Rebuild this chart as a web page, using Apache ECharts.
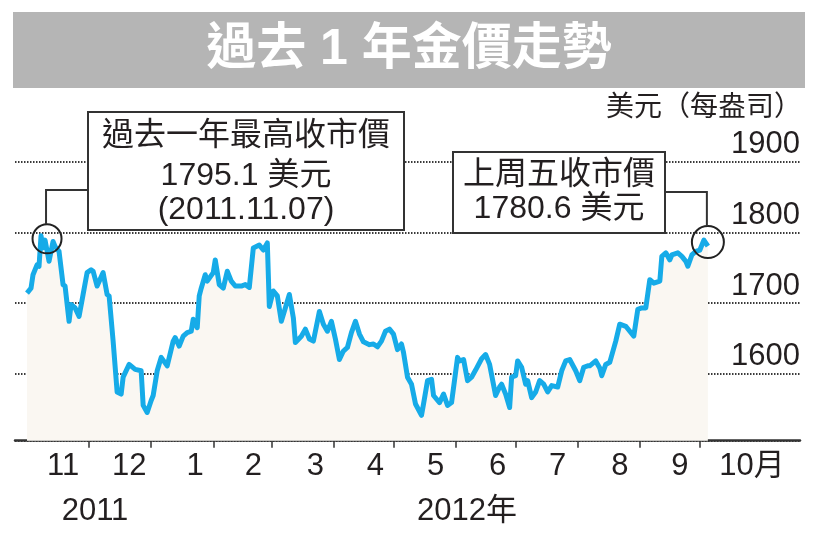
<!DOCTYPE html>
<html><head><meta charset="utf-8">
<script src="https://cdn.jsdelivr.net/npm/echarts@6/dist/echarts.min.js"></script>
<style>html,body{margin:0;padding:0;background:#fff}#c{width:820px;height:540px}</style>
</head><body><div id="c"></div>
<script>
// ---------- data ----------
const dates = [
'2011-10-31','2011-11-02','2011-11-03','2011-11-05','2011-11-06','2011-11-07','2011-11-08','2011-11-09','2011-11-11','2011-11-13',
'2011-11-14','2011-11-16','2011-11-18','2011-11-19','2011-11-21','2011-11-22','2011-11-24','2011-11-26','2011-11-28','2011-11-30',
'2011-12-02','2011-12-03','2011-12-05','2011-12-08','2011-12-10','2011-12-11','2011-12-13','2011-12-15','2011-12-17','2011-12-18',
'2011-12-21','2011-12-24','2011-12-27','2011-12-28','2011-12-30','2012-01-01','2012-01-02','2012-01-04','2012-01-06','2012-01-09',
'2012-01-12','2012-01-13','2012-01-15','2012-01-17','2012-01-19','2012-01-21','2012-01-22','2012-01-24','2012-01-25','2012-01-26',
'2012-01-28','2012-01-29','2012-02-01','2012-02-02','2012-02-04','2012-02-06','2012-02-08','2012-02-10','2012-02-12','2012-02-15',
'2012-02-17','2012-02-19','2012-02-21','2012-02-24','2012-02-26','2012-02-28','2012-02-29','2012-03-02','2012-03-04','2012-03-06',
'2012-03-08','2012-03-10','2012-03-12','2012-03-13','2012-03-16','2012-03-18','2012-03-20','2012-03-22','2012-03-25','2012-03-27',
'2012-03-29','2012-03-31','2012-04-02','2012-04-04','2012-04-06','2012-04-08','2012-04-10','2012-04-12','2012-04-14','2012-04-16',
'2012-04-19','2012-04-21','2012-04-23','2012-04-25','2012-04-27','2012-04-29','2012-05-01','2012-05-03','2012-05-05','2012-05-06',
'2012-05-08','2012-05-10','2012-05-12','2012-05-15','2012-05-16','2012-05-18','2012-05-20','2012-05-21','2012-05-24','2012-05-26',
'2012-05-28','2012-05-30','2012-06-02','2012-06-03','2012-06-05','2012-06-07','2012-06-09','2012-06-11','2012-06-14','2012-06-16',
'2012-06-18','2012-06-21','2012-06-23','2012-06-24','2012-06-26','2012-06-28','2012-06-29','2012-07-01','2012-07-02','2012-07-04',
'2012-07-06','2012-07-07','2012-07-09','2012-07-11','2012-07-13','2012-07-15','2012-07-17','2012-07-19','2012-07-22','2012-07-24',
'2012-07-26','2012-07-28','2012-07-31','2012-08-02','2012-08-04','2012-08-06','2012-08-07','2012-08-10','2012-08-12','2012-08-13',
'2012-08-15','2012-08-17','2012-08-20','2012-08-22','2012-08-25','2012-08-27','2012-08-29','2012-08-31','2012-09-02','2012-09-04',
'2012-09-06','2012-09-08','2012-09-11','2012-09-12','2012-09-14','2012-09-16','2012-09-17','2012-09-20','2012-09-22','2012-09-24',
'2012-09-25','2012-09-27','2012-09-29','2012-10-01','2012-10-03','2012-10-05'
];
const prices = [
1714,1721,1740,1754,1752,1795.1,1778,1789,1759,1787,
1780,1773,1726,1724,1674,1698,1693,1681,1712,1743,
1747,1745,1724,1743,1712,1710,1646,1574,1571,1595,
1613,1606,1604,1555,1545,1562,1569,1604,1623,1611,
1646,1651,1639,1653,1658,1660,1677,1665,1710,1721,
1740,1731,1743,1761,1726,1721,1745,1731,1724,1724,
1726,1722,1778,1782,1775,1785,1695,1717,1710,1674,
1693,1712,1679,1644,1653,1663,1649,1646,1688,1670,
1660,1674,1649,1620,1632,1637,1658,1674,1656,1645,
1641,1642,1638,1646,1660,1663,1656,1634,1642,1630,
1595,1585,1557,1541,1557,1590,1592,1569,1559,1571,
1555,1559,1623,1618,1620,1590,1595,1605,1621,1627,
1613,1569,1581,1585,1571,1552,1595,1597,1618,1609,
1585,1590,1566,1574,1590,1585,1574,1583,1581,1604,
1618,1620,1604,1590,1609,1611,1611,1618,1608,1597,
1613,1616,1646,1670,1667,1660,1653,1691,1693,1693,
1733,1728,1731,1766,1771,1761,1768,1771,1766,1759,
1752,1768,1773,1775,1789,1780.6
];
const tickDates = ['2011-12-01','2012-01-01','2012-02-01','2012-03-01','2012-04-01','2012-05-01','2012-06-01','2012-07-01','2012-08-01','2012-09-01','2012-10-01'];
const labelDates = ['2011-11-18','2011-12-21','2012-01-23','2012-02-21','2012-03-23','2012-04-22','2012-05-22','2012-06-22','2012-07-22','2012-08-22','2012-09-21','2012-10-27'];
const monthLabels = ['11','12','1','2','3','4','5','6','7','8','9','10月'];
const yTicks = [1600, 1700, 1800, 1900];
const titleText = '過去 1 年金價走勢';
const unitText = '美元（每盎司）';
const yearLabels = ['2011', '2012年'];
const peakNote = ['過去一年最高收市價', '1795.1 美元', '(2011.11.07)'];
const lastNote = ['上周五收市價', '1780.6 美元'];

// ---------- helpers ----------
function ts(s) { const p = s.split('-').map(Number); return new Date(p[0], p[1] - 1, p[2]).getTime(); }
const FONT = "'Liberation Sans','Noto Sans CJK TC',sans-serif";
const INK = '#231f20';

const seriesData = dates.map((d, i) => [ts(d), prices[i]]);
const labelTs = labelDates.map(ts);
let peakIdx = 0;
prices.forEach((v, i) => { if (v > prices[peakIdx]) peakIdx = i; });
const lastIdx = prices.length - 1;

const chart = echarts.init(document.getElementById('c'));

const option = {
  backgroundColor: '#fff',
  animation: false,
  grid: { left: 15, right: 20, top: 161.75, bottom: 99.3, containLabel: false },
  xAxis: {
    type: 'value',
    min: ts('2011-10-25'),
    max: ts('2012-11-20'),
    axisLine: { show: true, onZero: false, lineStyle: { color: '#333', width: 2.5 } },
    axisTick: { show: true, inside: false, length: 7, customValues: tickDates.map(ts), lineStyle: { color: '#333', width: 1.5 } },
    axisLabel: {
      show: true, customValues: labelTs, margin: 10, hideOverlap: false,
      showMinLabel: true, showMaxLabel: true,
      color: INK, fontFamily: FONT, fontSize: 31,
      formatter: function (v) {
        let best = 0;
        labelTs.forEach((t, i) => { if (Math.abs(t - v) < Math.abs(labelTs[best] - v)) best = i; });
        return monthLabels[best];
      }
    },
    splitLine: { show: false }
  },
  yAxis: {
    type: 'value',
    position: 'right',
    min: 1505, max: 1900,
    splitNumber: 4,
    axisLine: { show: false },
    axisTick: { show: false },
    axisLabel: {
      show: true, inside: true, margin: 0, customValues: yTicks,
      color: INK, fontFamily: FONT, fontSize: 31, verticalAlign: 'bottom', lineHeight: 34,
      formatter: function (v) { return String(v); }
    },
    splitLine: { show: true, lineStyle: { color: '#3a3a3a', width: 2, type: [1.5, 1.5] } }
  },
  series: [{
    type: 'line',
    data: seriesData,
    showSymbol: false,
    symbol: 'none',
    lineStyle: { color: '#16abe8', width: 5, join: 'round' },
    areaStyle: { color: '#faf7f2', opacity: 1, origin: 'start' },
    markPoint: {
      symbol: 'circle',
      silent: true,
      label: { show: false },
      itemStyle: { color: 'rgba(0,0,0,0)', borderColor: '#222', borderWidth: 2 },
      data: [
        { coord: seriesData[peakIdx], symbolSize: 29, symbolOffset: [6, 3] },
        { coord: seriesData[lastIdx], symbolSize: 32, symbolOffset: [0, -4] }
      ]
    },
    z: 2
  }]
};
chart.setOption(option);

// annotation layout (pixel positions of boxes)
const pPeak = chart.convertToPixel({ gridIndex: 0 }, seriesData[peakIdx]);
const pLast = chart.convertToPixel({ gridIndex: 0 }, seriesData[lastIdx]);
const cPeak = [pPeak[0] + 6, pPeak[1] + 3], rPeak = 14.5;
const cLast = [pLast[0], pLast[1] - 4], rLast = 16;

const box1 = { x: 88, y: 112, w: 316, h: 118 };
const box2 = { x: 453, y: 152, w: 212, h: 81 };
const lead1y = 190, lead2y = 192;

function txt(text, x, y, size, opts) {
  opts = opts || {};
  return { type: 'text', x: x, y: y, z: 100, silent: true,
    style: { text: text, fill: opts.fill || INK, font: (opts.weight || 'normal') + ' ' + size + 'px ' + FONT,
      align: opts.align || 'center', verticalAlign: 'middle' } };
}

const graphics = [
  { type: 'rect', z: 90, silent: true, shape: { x: 13, y: 12, width: 792, height: 76 }, style: { fill: '#b5b5b5' } },
  txt(titleText, 409, 50, 50, { fill: '#ffffff', weight: 'bold' }),
  txt(unitText, 802, 108, 28, { align: 'right' }),
  txt(yearLabels[0], 95, 511, 31),
  txt(yearLabels[1], 467, 511, 31),
  { type: 'polyline', z: 95, silent: true, shape: { points: [[box1.x, lead1y], [cPeak[0] - 1, lead1y], [cPeak[0] - 1, cPeak[1] - rPeak]] },
    style: { stroke: '#333', lineWidth: 2, fill: null } },
  { type: 'rect', z: 96, silent: true, shape: { x: box1.x, y: box1.y, width: box1.w, height: box1.h }, style: { fill: '#fff', stroke: '#333', lineWidth: 2 } },
  txt(peakNote[0], box1.x + box1.w / 2, 136, 32),
  txt(peakNote[1], box1.x + box1.w / 2, 176, 32),
  txt(peakNote[2], box1.x + box1.w / 2, 210, 32),
  { type: 'polyline', z: 95, silent: true, shape: { points: [[box2.x + box2.w, lead2y], [cLast[0] - 1, lead2y], [cLast[0] - 1, cLast[1] - rLast]] },
    style: { stroke: '#333', lineWidth: 2, fill: null } },
  { type: 'rect', z: 96, silent: true, shape: { x: box2.x, y: box2.y, width: box2.w, height: box2.h }, style: { fill: '#fff', stroke: '#333', lineWidth: 2 } },
  txt(lastNote[0], box2.x + box2.w / 2, 175, 32),
  txt(lastNote[1], box2.x + box2.w / 2, 209, 32)
];
chart.setOption({ graphic: { elements: graphics } });
</script>
</body></html>
